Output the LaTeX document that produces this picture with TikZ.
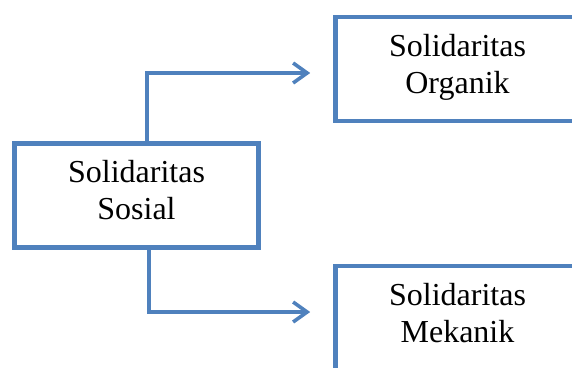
\documentclass[tikz,border=0pt]{standalone}
\usepackage{fontspec}
\setmainfont{Liberation Serif}
\usetikzlibrary{arrows.meta}
\definecolor{boxblue}{RGB}{79,129,189}
\newcommand{\lowstrut}{\rule[-11pt]{0pt}{11pt}}
\tikzset{
  solbox/.style={draw=boxblue,line width=4.6pt,minimum width=244pt,minimum height=104pt,
    align=center,font=\fontsize{32}{37}\selectfont,inner sep=0pt},
  link/.style={draw=boxblue,line width=3.6pt,-{Straight Barb[length=14pt,width=20pt]}}
}
\begin{document}
\begin{tikzpicture}[x=1pt,y=-1pt]
\useasboundingbox (0,0) rectangle (572,367);
\clip (0,0) rectangle (572,367);

\node[solbox] (sosial) at (136.5,195.5) {Solidaritas\\Sosial\lowstrut};
\node[solbox] (organik) at (457.5,69) {Solidaritas\\Organik\lowstrut};
\node[solbox] (mekanik) at (457.5,318) {Solidaritas\\Mekanik\lowstrut};

\draw[link] ([xshift=10.5pt]sosial.north) |- ([xshift=-23pt,yshift=-4pt]organik.west);
\draw[link] ([xshift=12.5pt]sosial.south) |- ([xshift=-23pt,yshift=6pt]mekanik.west);
\end{tikzpicture}
\end{document}
